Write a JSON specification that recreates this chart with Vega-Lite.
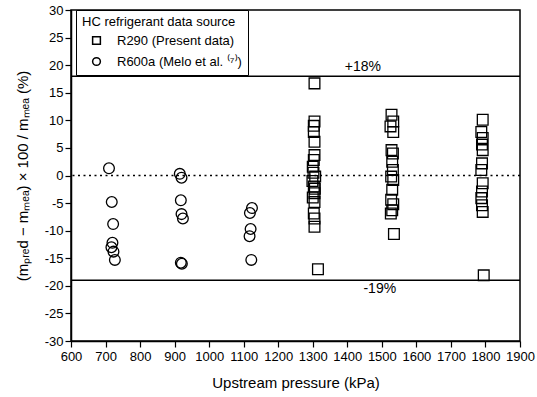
{
  "$schema": "https://vega.github.io/schema/vega-lite/v6.json",
  "width": 449,
  "height": 331,
  "autosize": {"type": "none"},
  "padding": {"left": 71, "top": 10, "right": 17, "bottom": 56},
  "background": "white",
  "config": {
    "font": "Liberation Sans",
    "view": {"stroke": "black", "strokeWidth": 1.5},
    "axis": {
      "domainColor": "black", "domainWidth": 1.5, "tickColor": "black", "tickWidth": 1.2,
      "labelColor": "black", "titleColor": "black", "grid": false,
      "labelFontSize": 13, "titleFontSize": 15, "titleFontWeight": "normal"
    },
    "axisX": {
      "values": [600, 650, 700, 750, 800, 850, 900, 950, 1000, 1050, 1100, 1150, 1200, 1250, 1300, 1350, 1400, 1450, 1500, 1550, 1600, 1650, 1700, 1750, 1800, 1850, 1900],
      "labelExpr": "datum.value % 100 === 0 ? toString(datum.value) : ''",
      "tickSize": {"condition": {"test": "datum.value % 100 === 0", "value": 6}, "value": 3},
      "labelPadding": 3, "titlePadding": 12, "labelFlush": false, "labelOverlap": false
    },
    "axisY": {
      "values": [-30, -27.5, -25, -22.5, -20, -17.5, -15, -12.5, -10, -7.5, -5, -2.5, 0, 2.5, 5, 7.5, 10, 12.5, 15, 17.5, 20, 22.5, 25, 27.5, 30],
      "labelExpr": "datum.value % 5 === 0 ? toString(datum.value) : ''",
      "tickSize": {"condition": {"test": "datum.value % 5 === 0", "value": 6}, "value": 3},
      "labelPadding": 2, "titlePadding": 14, "labelFlush": false, "labelOverlap": false
    }
  },
  "datasets": {
    "points": [
      {"pressure": 710, "dev": 1.3, "source": "R600a"},
      {"pressure": 718, "dev": -4.8, "source": "R600a"},
      {"pressure": 722, "dev": -8.8, "source": "R600a"},
      {"pressure": 720, "dev": -12.2, "source": "R600a"},
      {"pressure": 717, "dev": -13.0, "source": "R600a"},
      {"pressure": 723, "dev": -13.8, "source": "R600a"},
      {"pressure": 727, "dev": -15.3, "source": "R600a"},
      {"pressure": 915, "dev": 0.3, "source": "R600a"},
      {"pressure": 920, "dev": -0.4, "source": "R600a"},
      {"pressure": 918, "dev": -4.5, "source": "R600a"},
      {"pressure": 920, "dev": -7.0, "source": "R600a"},
      {"pressure": 924, "dev": -7.8, "source": "R600a"},
      {"pressure": 918, "dev": -15.8, "source": "R600a"},
      {"pressure": 921, "dev": -16.0, "source": "R600a"},
      {"pressure": 1124, "dev": -5.9, "source": "R600a"},
      {"pressure": 1118, "dev": -6.8, "source": "R600a"},
      {"pressure": 1120, "dev": -9.7, "source": "R600a"},
      {"pressure": 1117, "dev": -11.0, "source": "R600a"},
      {"pressure": 1122, "dev": -15.3, "source": "R600a"},
      {"pressure": 1305, "dev": 16.7, "source": "R290"},
      {"pressure": 1305, "dev": 9.8, "source": "R290"},
      {"pressure": 1303, "dev": 9.0, "source": "R290"},
      {"pressure": 1303, "dev": 7.9, "source": "R290"},
      {"pressure": 1305, "dev": 6.1, "source": "R290"},
      {"pressure": 1305, "dev": 3.7, "source": "R290"},
      {"pressure": 1303, "dev": 2.8, "source": "R290"},
      {"pressure": 1300, "dev": 1.6, "source": "R290"},
      {"pressure": 1302, "dev": 0.5, "source": "R290"},
      {"pressure": 1307, "dev": -0.2, "source": "R290"},
      {"pressure": 1299, "dev": -1.0, "source": "R290"},
      {"pressure": 1303, "dev": -2.0, "source": "R290"},
      {"pressure": 1306, "dev": -2.4, "source": "R290"},
      {"pressure": 1305, "dev": -3.2, "source": "R290"},
      {"pressure": 1300, "dev": -4.0, "source": "R290"},
      {"pressure": 1305, "dev": -4.8, "source": "R290"},
      {"pressure": 1303, "dev": -6.9, "source": "R290"},
      {"pressure": 1305, "dev": -7.8, "source": "R290"},
      {"pressure": 1305, "dev": -9.3, "source": "R290"},
      {"pressure": 1315, "dev": -17.0, "source": "R290"},
      {"pressure": 1528, "dev": 11.0, "source": "R290"},
      {"pressure": 1533, "dev": 9.8, "source": "R290"},
      {"pressure": 1525, "dev": 8.9, "source": "R290"},
      {"pressure": 1533, "dev": 7.9, "source": "R290"},
      {"pressure": 1528, "dev": 4.6, "source": "R290"},
      {"pressure": 1532, "dev": 4.0, "source": "R290"},
      {"pressure": 1530, "dev": 2.5, "source": "R290"},
      {"pressure": 1532, "dev": 1.0, "source": "R290"},
      {"pressure": 1527, "dev": -0.2, "source": "R290"},
      {"pressure": 1533, "dev": -0.8, "source": "R290"},
      {"pressure": 1530, "dev": -2.6, "source": "R290"},
      {"pressure": 1527, "dev": -4.4, "source": "R290"},
      {"pressure": 1533, "dev": -5.2, "source": "R290"},
      {"pressure": 1530, "dev": -6.3, "source": "R290"},
      {"pressure": 1526, "dev": -6.9, "source": "R290"},
      {"pressure": 1535, "dev": -10.6, "source": "R290"},
      {"pressure": 1792, "dev": 10.1, "source": "R290"},
      {"pressure": 1788, "dev": 7.9, "source": "R290"},
      {"pressure": 1792, "dev": 6.8, "source": "R290"},
      {"pressure": 1790, "dev": 5.6, "source": "R290"},
      {"pressure": 1792, "dev": 4.6, "source": "R290"},
      {"pressure": 1790, "dev": 2.2, "source": "R290"},
      {"pressure": 1788, "dev": 1.0, "source": "R290"},
      {"pressure": 1792, "dev": -1.4, "source": "R290"},
      {"pressure": 1790, "dev": -2.9, "source": "R290"},
      {"pressure": 1788, "dev": -4.1, "source": "R290"},
      {"pressure": 1790, "dev": -5.4, "source": "R290"},
      {"pressure": 1792, "dev": -6.6, "source": "R290"},
      {"pressure": 1795, "dev": -18.1, "source": "R290"}
    ],
    "bands": [
      {"dev": 18, "label": "+18%", "lx": 1445, "pos": "above"},
      {"dev": -19, "label": "-19%", "lx": 1494, "pos": "below"}
    ]
  },
  "layer": [
    {
      "data": {"name": "points"},
      "mark": {"type": "point", "filled": false, "stroke": "black", "strokeWidth": 1.3, "size": 115, "opacity": 1},
      "encoding": {
        "x": {
          "field": "pressure", "type": "quantitative", "title": "Upstream pressure (kPa)",
          "scale": {"domain": [600, 1900], "nice": false, "zero": false}
        },
        "y": {
          "field": "dev", "type": "quantitative", "title": "(mₚᵣₑd − mₘₑₐ) × 100 / mₘₑₐ   (%)",
          "scale": {"domain": [-30, 30], "nice": false}
        },
        "shape": {
          "field": "source", "type": "nominal",
          "scale": {"domain": ["R290", "R600a"], "range": ["square", "circle"]},
          "legend": {
            "title": "HC refrigerant data source",
            "orient": "none", "legendX": 5, "legendY": 0,
            "labelExpr": "datum.label === 'R290' ? 'R290 (Present data)' : 'R600a (Melo et al. ⁽⁷⁾)'",
            "fillColor": "white", "strokeColor": "black", "padding": 6,
            "titleFontSize": 13, "titleFontWeight": "normal", "titleColor": "black",
            "labelFontSize": 13, "labelColor": "black", "labelOffset": 14,
            "symbolStrokeColor": "black", "symbolFillColor": "transparent", "symbolSize": 60,
            "symbolOffset": 8, "rowPadding": 6, "titlePadding": 5
          }
        }
      }
    },
    {
      "data": {"name": "bands"},
      "mark": {"type": "rule", "color": "black", "strokeWidth": 1.5},
      "encoding": {"y": {"field": "dev", "type": "quantitative", "title": "(mₚᵣₑd − mₘₑₐ) × 100 / mₘₑₐ   (%)"}}
    },
    {
      "data": {"values": [{"dev": 0}]},
      "mark": {"type": "rule", "color": "black", "strokeWidth": 1.3, "strokeDash": [2, 3.5]},
      "encoding": {"y": {"field": "dev", "type": "quantitative", "title": "(mₚᵣₑd − mₘₑₐ) × 100 / mₘₑₐ   (%)"}}
    },
    {
      "data": {"name": "bands"},
      "transform": [{"filter": "datum.pos === 'above'"}],
      "mark": {"type": "text", "fontSize": 14, "baseline": "bottom", "dy": -2, "color": "black"},
      "encoding": {
        "x": {"field": "lx", "type": "quantitative", "title": "Upstream pressure (kPa)"},
        "y": {"field": "dev", "type": "quantitative", "title": "(mₚᵣₑd − mₘₑₐ) × 100 / mₘₑₐ   (%)"},
        "text": {"field": "label"}
      }
    },
    {
      "data": {"name": "bands"},
      "transform": [{"filter": "datum.pos === 'below'"}],
      "mark": {"type": "text", "fontSize": 14, "baseline": "top", "dy": 2, "color": "black"},
      "encoding": {
        "x": {"field": "lx", "type": "quantitative", "title": "Upstream pressure (kPa)"},
        "y": {"field": "dev", "type": "quantitative", "title": "(mₚᵣₑd − mₘₑₐ) × 100 / mₘₑₐ   (%)"},
        "text": {"field": "label"}
      }
    }
  ]
}
